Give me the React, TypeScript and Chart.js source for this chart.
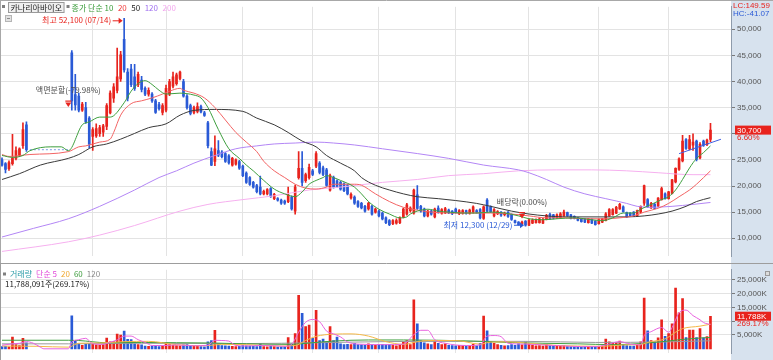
import React, { useEffect, useRef } from "react";
import { Chart, registerables } from "chart.js";

Chart.register(...registerables);

// ---------------- DATA ----------------
const stockName = "카나리아바이오";
const hiDate = "07/14";
const loDate = "12/29";

const opens = [
  25000,24300,23300,24300,25300,25900,27700,31700,
  null,null,null,null,null,null,null,null,null,null,null,null,
  45500,37500,37200,34500,35000,33000,29500,29600,30000,30300,
  31400,34000,36800,38300,40500,48100,41800,42400,40900,39400,
  40300,38700,37600,37600,36300,35600,34100,34500,37600,39100,
  39600,40600,40000,37200,35400,34100,34300,35200,34000,32100,
  26600,24700,26800,26500,26200,25800,24000,24200,24700,23800,
  22500,21600,20700,20100,19800,18500,18500,19500,17600,17600,
  17300,17100,17000,17900,15200,21600,23400,21000,21600,22900,
  23800,24400,23500,23100,19200,21600,21000,20700,20400,20100,
  17700,17900,17000,16700,16100,15600,16100,15000,15200,14800,
  13900,13400,12800,12900,13000,14100,14600,15300,14800,18300,
  16100,15600,14300,15200,14100,15800,14800,14900,15400,15200,
  15600,14700,14800,15300,14800,15000,15300,15500,13800,17300,
  16000,14300,14700,15000,14500,15000,14600,13400,13100,12700,
  13300,12500,12900,13000,13000,12900,13600,14600,14500,13900,
  14000,14300,14900,14500,14200,13900,13700,13700,13000,13600,
  13300,12800,13100,13400,14300,14500,14800,15600,16000,14900,
  14800,15000,14300,15000,16700,17400,15800,16500,16200,17400,
  18500,17600,18600,20800,23200,24800,28900,27100,27800,28600,
  25400,28600,27900,28900,
];
const highs = [
  25400,24500,24800,29900,27500,27300,32100,32300,
  null,null,null,null,null,null,null,null,null,null,null,null,
  45900,41400,37800,36000,36000,33300,31200,31900,31600,31800,
  35800,38200,39600,46400,45800,52100,42500,43300,43300,41800,
  41000,39000,38800,37900,36600,36000,35800,39300,40400,41800,
  41600,42000,40400,37500,35700,35300,35900,35500,34300,32400,
  27300,29600,28700,26800,26400,26000,25500,25200,24900,24000,
  22700,21800,20900,20300,21900,19200,19500,19700,18600,17800,
  17500,17300,19800,18100,20200,26600,26600,22500,24200,23200,
  26600,24700,23800,23400,22300,21900,21200,20900,20600,20300,
  18700,18100,17200,16900,16300,16900,16300,15800,15400,15000,
  14100,13600,13600,13700,14100,15800,16700,16000,19400,20100,
  16300,15800,15400,15400,15800,16200,15700,15900,15600,15300,
  15800,15500,15500,15400,15600,16200,15500,15700,16200,17600,
  16200,15700,15300,15100,15000,15100,14700,13500,13200,13300,
  13400,13700,13700,13700,13900,13800,14600,14800,14600,14700,
  14900,15400,15000,14600,14300,14000,13800,13800,13800,13700,
  13400,13700,13800,14900,15700,15700,16100,16700,16200,15000,
  14900,15100,15400,16200,20200,17600,16900,16700,17800,19800,
  18700,19000,21300,23500,25400,29700,29100,29700,30000,28800,
  28300,28800,29000,32000,
];
const lows = [
  23800,22500,23000,24000,25000,25600,27200,26600,
  null,null,null,null,null,null,null,null,null,null,null,null,
  34500,34500,34200,34300,32000,27300,26800,29300,29500,29500,
  30800,33800,36000,37800,40000,41800,36300,39000,38300,39000,
  38000,37300,37200,36000,33900,34500,33600,34200,37300,38800,
  39300,40300,37000,34700,33600,33800,34000,34000,33300,27300,
  23900,23900,25600,25400,24500,24200,23800,24000,23200,21800,
  20500,20100,19600,18700,18300,18300,18300,17800,17400,17100,
  16500,16500,16800,15400,14600,21300,20000,20700,21300,22000,
  23500,22300,22000,19900,19000,19600,19700,19200,18900,18300,
  17500,16500,15900,15600,15000,15400,14400,14800,14100,13500,
  12800,12400,12600,12700,12800,13900,14400,15000,14600,15500,
  15000,14100,14100,14400,13900,14800,14600,14700,14700,14500,
  14800,14500,14600,14600,14600,14800,14800,13700,13600,15000,
  14900,14100,14500,14200,14300,14000,13400,12900,12500,12600,
  12300,12400,12800,12900,12900,12800,13500,13600,13700,13800,
  13900,14200,14200,13700,13700,13300,13100,13000,12900,12800,
  12500,12700,13000,13300,14200,14400,14700,15500,15000,14000,
  14200,14200,14200,14900,16300,15900,15700,15600,16000,17300,
  17500,17500,18500,20600,23000,24600,27000,26900,26800,24800,
  25200,27600,27700,28500,
];
const closes = [
  24000,23200,24500,25300,26800,27100,30800,26950,
  null,null,null,null,null,null,null,null,null,null,null,null,
  36300,35500,34500,35700,32300,28000,30800,31000,31200,31500,
  35400,37800,39000,40900,45100,42200,36800,39400,38700,41400,
  38500,37600,38300,36300,34100,34800,35400,38700,40000,40900,
  41300,41800,37200,35000,33900,35000,35200,34200,33500,27700,
  24000,27100,25900,25600,24700,24400,25300,25000,23400,22000,
  20700,20300,19800,18900,18500,19000,19300,18000,18400,17300,
  16700,16700,18300,15600,19800,23400,20700,22200,23600,22200,
  26200,22600,22200,20100,22000,19800,19900,19400,19100,18500,
  18400,16700,16100,15800,15200,16700,14600,15600,14300,13700,
  13000,12600,13400,13400,13900,15600,16400,15800,19200,15700,
  15200,14300,15200,14600,15600,15000,15500,15700,14900,14700,
  15000,15300,15300,14800,15400,16000,15000,13900,16000,15200,
  15100,15500,15100,14400,14800,14200,13600,13000,12600,13100,
  12500,13500,13500,13500,13700,13600,14400,13800,13900,14500,
  14700,15000,14300,13800,13800,13400,13200,13100,13700,12900,
  12600,13600,13700,14700,15500,15500,15900,16500,15100,14100,
  14300,14300,15300,16100,20100,16000,16700,15700,17700,19500,
  17600,18900,21200,23400,25200,28600,27200,28900,28400,25100,
  28000,27800,28800,30700,
];
// volume in thousands of shares (K)
const volumes = [
  800,900,700,4200,1500,1200,3800,2200,
  null,null,null,null,null,null,null,null,null,null,null,null,
  11900,2800,1800,1300,1600,2000,1700,1400,1300,1500,
  3900,2500,2600,5300,5000,6400,3400,3300,1800,1500,
  1400,1000,900,1000,1200,800,900,2100,1500,1300,
  1200,1100,1400,1500,1100,900,900,800,700,2500,
  3000,6700,1800,1200,1100,1000,900,800,900,1200,
  1100,1000,900,800,2000,800,700,900,800,600,
  700,700,4100,1800,5500,19300,12800,8000,8600,3800,
  13900,3000,3500,2500,8000,3000,4200,1800,1500,1600,
  1500,2000,1500,1400,1300,1800,1500,1300,1500,1600,
  1400,1500,1300,1100,1400,2500,3000,1500,17700,9000,
  3000,2200,1800,1500,2600,2000,1500,1800,1300,1200,
  1100,1300,1200,1000,1100,1600,1100,2000,11800,6500,
  2500,2000,1500,1300,1100,1200,1500,1300,1800,1400,
  2500,1800,1300,1100,1200,1000,1500,1200,900,900,
  1000,1300,900,800,700,700,600,700,800,700,
  800,900,900,3500,2500,2000,2200,2800,1500,1200,
  1000,1000,1300,2500,18300,6500,3000,2500,4000,10500,
  4500,5500,9000,22000,13000,18200,4100,6800,6800,4100,
  7300,4000,4379.4,11788.091,
];

// first trading day of each month (candle index)
const monthStartIdx = [26, 47, 69, 89, 108, 130, 151, 171, 191];
const priceTicks = [10000, 15000, 20000, 25000, 30000, 35000, 40000, 45000, 50000];
const volTicks = [5000, 10000, 15000, 20000, 25000];

// price moving averages (candle index, value)
const maPeriods = [10, 20, 50, 120, 200];
const ma10Idx = [0,3,6,8,14,17,19,23,25,28,31,35,37,39,41,43,45,47,51,55,57,59,62,65,68,70,72,75,78,81,84,86,88,90,92,93,95,97,99,101,103,105,108,111,114,116,117,119,122,125,128,132,136,140,144,148,151,155,159,164,169,172,175,178,181,183,186,189,191,193,195,197,199,201,203];
const ma10Val = [25850,25480,25850,26760,27500,27500,26760,31720,32270,33190,33190,35940,38150,39620,40170,39430,38330,37600,37780,37410,36860,35030,30800,27130,25290,24010,22910,21070,19420,18500,17950,18870,20340,21070,21620,21990,21620,21070,20520,19790,18500,17030,15560,14640,13910,14090,14640,15200,15560,15200,15010,14830,14830,15010,14830,14280,13730,13540,13730,13910,13540,13360,13910,14830,14830,15560,16480,17400,17950,19240,21250,23460,25290,26400,27680];
const ma20Idx = [0,2,8,19,22,24,28,31,32,34,37,40,43,46,48,51,52,55,58,61,64,67,70,73,75,78,81,84,87,90,93,95,98,101,103,107,111,115,119,123,128,134,140,146,151,156,161,167,173,177,181,184,188,191,194,197,199,203];
const ma20Val = [26030,25660,26030,26580,27500,27680,28410,28970,30250,33560,35760,36310,36860,37600,38150,38700,38330,37780,36860,35030,32640,30250,28410,26580,24740,22910,21620,20340,19600,19420,19790,20340,20340,20340,20150,18500,17030,15930,15380,15010,14830,14830,14830,14640,14280,13910,13910,13730,13730,13910,14280,15010,15750,16670,17950,19240,20340,22910];
const ma50Idx = [0,5,11,19,22,26,30,34,38,42,47,51,55,61,69,73,78,82,86,90,93,97,101,103,107,111,115,119,125,130,136,140,146,151,156,161,173,179,184,188,192,196,199,203];
const ma50Val = [21250,22360,24010,25290,26030,27500,28050,28970,30070,31170,31900,33560,34470,34660,34290,33000,31720,30250,28600,27500,25840,24380,22910,21620,20150,19240,18500,17950,17580,17220,16670,16110,15200,14640,14280,14090,14090,14090,14280,14640,15200,16110,17030,17770];
const ma120Idx = [0,9,19,28,38,45,50,55,61,67,73,78,84,90,95,101,109,119,128,138,148,151,156,161,167,173,179,182,186,192,198,203];
const ma120Val = [10240,11890,13730,16110,19240,21620,22910,24380,25840,27130,27680,28050,28230,28410,28230,27860,27130,26210,25290,24010,23090,22540,21250,19790,18500,17580,16670,16110,15930,16110,16480,16850];
const ma200Idx = [0,19,28,38,51,59,69,78,88,97,109,119,128,138,148,159,169,179,188,198,203];
const ma200Val = [7480,9320,10610,12440,15200,16480,17400,18130,19240,19790,20700,21250,21990,22360,22910,23090,23090,22910,22540,22170,22170];

// volume moving averages (K)
const volMaPeriods = [5, 20, 60, 120];
const vma5Idx = [0,3,5,7,9,11,12,19,20,22,24,26,29,31,33,35,37,39,41,43,47,50,55,59,61,63,65,67,70,74,78,81,83,85,87,89,91,93,95,97,99,102,110,115,118,120,122,124,127,133,137,139,141,143,145,150,155,160,166,170,173,177,180,183,184,186,189,191,193,194,196,198,200,201,203];
const vma5Val = [1300,1800,2000,2600,2000,600,0,0,2400,3300,3800,1800,1600,2400,3200,4600,4600,3300,2300,1200,1200,1400,1100,1300,3100,3000,2800,1200,1000,1200,1100,900,1600,6000,9600,10600,9800,6400,5400,4300,2500,1700,1500,1700,5100,6700,6700,3300,2000,1200,1400,4600,4800,4400,2000,1700,1400,1100,800,800,1400,2600,1700,1400,4800,6200,7700,6000,10500,13000,14000,12000,10500,9500,8800];
const vma20Idx = [0,10,19,22,28,35,42,50,58,63,70,80,84,87,90,95,100,105,110,115,118,122,130,137,140,145,150,158,165,172,178,183,186,190,193,195,200,203];
const vma20Val = [1000,900,600,2000,2100,2600,2700,1500,1100,1600,1500,1000,1200,3000,4500,5300,5400,4600,2600,1600,2300,3000,3000,1700,2400,2500,2100,1300,1000,900,1400,1600,2600,3600,6000,7300,8200,8900];
const vma60Idx = [0,19,22,30,40,50,60,70,83,88,95,105,115,125,135,145,155,165,175,185,190,195,200,203];
const vma60Val = [3100,3100,3000,2200,2300,2200,2100,1800,1600,2100,2800,3200,3200,3100,2800,2300,2000,1800,1500,2100,2700,3400,3900,4100];
const vma120Idx = [0,19,40,70,90,110,130,150,170,190,203];
const vma120Val = [1800,1800,2000,1900,2200,2600,2700,2700,2300,2500,2900];

// events (split, ex-dividend) and user trend line
const eventIdx = [19, 149];
const eventLevel = [35600, 14260];
const eventText = ["액면분할(-79.98%)", "배당락(0.00%)"];
const trendIdx = [194, 206];
const trendVal = [26200, 28950];

// ---------------- STYLE ----------------
const RED = "#e8231d";
const BLUE = "#2a5ad6";
const GRID = "#e3e3e3";
const AXIS_BG = "#d7e2ee";
const KFONT = '"Noto Sans CJK KR", "Noto Sans", sans-serif';
const NFONT = '"Liberation Sans", Arial, sans-serif';
const MA_COLORS = ["#3f9f3f", "#f26464", "#3a3a3a", "#b386f5", "#f6b0ef"];
const MA_LEGEND_COLORS = ["#3a9c3a", "#f03a3a", "#222222", "#a070f0", "#f3a6ee"];
const VMA_COLORS = ["#e863df", "#f4b847", "#40a040", "#9a9a9a"];
const VMA_LEGEND_COLORS = ["#e045d8", "#f0a830", "#3a9a3a", "#888888"];

const X_MIN = -0.2865;
const X_MAX = 208.88;
const P_MIN = 6567;
const P_MAX = 54303;
const V_MIN = -1587;
const V_MAX = 28571;
const AXIS_W = 42;

const fmt = (v: number) => Math.round(v).toLocaleString("en-US");

const idx = opens.map((_, i) => i);
const traded = idx.filter((i) => closes[i] !== null);
const halted = idx.filter((i) => closes[i] === null);
const isUp = (i: number) => (closes[i] as number) >= (opens[i] as number);
const candleColors = traded.map((i) => (isUp(i) ? RED : BLUE));

function lineDs(ix: number[], vals: number[], color: string, order = 1, extra: any = {}) {
  return {
    type: "line",
    data: ix.map((x, k) => ({ x, y: vals[k] })),
    borderColor: color,
    borderWidth: 1,
    pointRadius: 0,
    cubicInterpolationMode: "monotone",
    fill: false,
    order,
    ...extra,
  };
}

function xScale() {
  return {
    type: "linear",
    min: X_MIN,
    max: X_MAX,
    offset: false,
    afterBuildTicks: (s: any) => {
      s.ticks = monthStartIdx.map((v) => ({ value: v }));
    },
    afterFit: (s: any) => {
      s.height = 0;
    },
    ticks: { display: false },
    grid: { color: GRID, drawTicks: false, offset: false },
    border: { display: false },
  };
}

const axisBg = {
  id: "axisBg",
  beforeDraw(chart: any) {
    const { ctx, chartArea, width, height } = chart;
    ctx.save();
    ctx.fillStyle = AXIS_BG;
    ctx.fillRect(chartArea.right, 0, width - chartArea.right, height);
    ctx.restore();
  },
};

function drawLegendRow(ctx: any, items: { t: string; c: string }[], x: number, y: number, gap: number) {
  for (const it of items) {
    ctx.fillStyle = it.c;
    ctx.fillText(it.t, x, y);
    x += ctx.measureText(it.t).width + gap;
  }
  return x;
}

const priceOverlay = {
  id: "priceOverlay",
  afterDraw(chart: any) {
    const { ctx, chartArea: ca, scales } = chart;
    const xs = scales.x;
    const ys = scales.y;
    ctx.save();
    ctx.lineWidth = 1;
    ctx.strokeStyle = "#a8a8a8";
    ctx.beginPath();
    ctx.moveTo(0, 0.5);
    ctx.lineTo(chart.width, 0.5);
    ctx.moveTo(0.5, 0);
    ctx.lineTo(0.5, chart.height);
    ctx.stroke();

    // legend
    ctx.textBaseline = "middle";
    ctx.textAlign = "left";
    ctx.font = `8px ${KFONT}`;
    ctx.fillStyle = "#7f7f7f";
    ctx.fillRect(2, 5, 3, 3);
    const nw = ctx.measureText(stockName).width;
    ctx.fillStyle = "#efefef";
    ctx.fillRect(8, 2, nw + 5, 11);
    ctx.strokeStyle = "#9a9a9a";
    ctx.strokeRect(8.5, 2.5, nw + 4, 10);
    ctx.fillStyle = "#222";
    ctx.fillText(stockName, 10.5, 8);
    let lx = 8 + nw + 7;
    ctx.fillStyle = "#7f7f7f";
    ctx.fillRect(lx, 5, 3, 3);
    lx += 5;
    drawLegendRow(
      ctx,
      maPeriods.map((p, k) => ({ t: k === 0 ? `종가 단순 ${p}` : `${p}`, c: MA_LEGEND_COLORS[k] })),
      lx,
      8,
      4.5
    );
    // small button
    ctx.fillStyle = "#b5b5b5";
    ctx.fillRect(5, 15, 7, 7);
    ctx.fillStyle = "#e2e2e2";
    ctx.fillRect(6, 16, 5, 5);
    ctx.fillStyle = "#8a8a8a";
    ctx.fillRect(7, 18, 3, 1);

    // highest
    let hiI = traded[0];
    let loI = traded[0];
    for (const i of traded) {
      if ((highs[i] as number) > (highs[hiI] as number)) hiI = i;
      if ((lows[i] as number) < (lows[loI] as number)) loI = i;
    }
    const hi = highs[hiI] as number;
    const lo = lows[loI] as number;
    const arrow = (tipX: number, yy: number, color: string) => {
      ctx.strokeStyle = color;
      ctx.fillStyle = color;
      ctx.beginPath();
      ctx.moveTo(tipX - 10, yy + 0.5);
      ctx.lineTo(tipX - 3, yy + 0.5);
      ctx.stroke();
      ctx.beginPath();
      ctx.moveTo(tipX, yy + 0.5);
      ctx.lineTo(tipX - 4, yy - 2.5);
      ctx.lineTo(tipX - 4, yy + 3.5);
      ctx.closePath();
      ctx.fill();
    };
    ctx.font = `8px ${KFONT}`;
    const hx = xs.getPixelForValue(hiI);
    const hy = ys.getPixelForValue(hi) + 2;
    arrow(hx - 1.5, hy, RED);
    ctx.textAlign = "right";
    ctx.fillStyle = RED;
    ctx.fillText(`최고 ${fmt(hi)} (${hiDate})`, hx - 13, hy);

    const lxp = xs.getPixelForValue(loI);
    const lyp = ys.getPixelForValue(lo) - 1.5;
    arrow(lxp - 1.5, lyp, BLUE);
    ctx.fillStyle = BLUE;
    ctx.fillText(`최저 ${fmt(lo)} (${loDate})`, lxp - 13, lyp);

    // event markers
    eventIdx.forEach((ei, k) => {
      const px = xs.getPixelForValue(ei);
      const py = ys.getPixelForValue(eventLevel[k]);
      ctx.fillStyle = RED;
      ctx.fillRect(px - 3, py - 4, 6, 1.2);
      ctx.beginPath();
      ctx.moveTo(px - 3, py - 2);
      ctx.lineTo(px + 3, py - 2);
      ctx.lineTo(px, py + 2.5);
      ctx.closePath();
      ctx.fill();
      ctx.fillStyle = "#4a4a4a";
      ctx.textAlign = "center";
      ctx.fillText(eventText[k], px, py - 14.5);
    });

    // right axis annotations
    const last = closes[closes.length - 1] as number;
    const prev = closes[closes.length - 2] as number;
    const ax = ca.right;
    ctx.textAlign = "left";
    ctx.font = `8px ${NFONT}`;
    ctx.fillStyle = RED;
    ctx.fillText(`LC:${((last / lo - 1) * 100).toFixed(2)}`, ax + 2, 5.5);
    ctx.fillStyle = BLUE;
    ctx.fillText(`HC:${((last / hi - 1) * 100).toFixed(2)}`, ax + 2, 13.5);
    const cy = ys.getPixelForValue(last);
    ctx.fillStyle = AXIS_BG;
    ctx.fillRect(ax + 4, cy + 4, 36, 8);
    ctx.fillStyle = RED;
    ctx.fillRect(ax + 4, cy - 4.5, 36, 9);
    ctx.fillStyle = "#ffffff";
    ctx.fillText(fmt(last), ax + 6, cy + 0.5);
    ctx.fillStyle = RED;
    ctx.fillText(`${((last / prev - 1) * 100).toFixed(2)}%`, ax + 6, cy + 8);
    ctx.restore();
  },
};

const volOverlay = {
  id: "volOverlay",
  afterDraw(chart: any) {
    const { ctx, chartArea: ca, scales } = chart;
    const ys = scales.y;
    ctx.save();
    ctx.lineWidth = 1;
    ctx.strokeStyle = "#9d9d9d";
    ctx.beginPath();
    ctx.moveTo(0, 0.5);
    ctx.lineTo(chart.width, 0.5);
    ctx.moveTo(0.5, 0);
    ctx.lineTo(0.5, chart.height);
    ctx.stroke();

    ctx.textBaseline = "middle";
    ctx.textAlign = "left";
    ctx.font = `8px ${KFONT}`;
    ctx.fillStyle = "#7f7f7f";
    ctx.fillRect(3, 9.5, 3, 3);
    drawLegendRow(
      ctx,
      [{ t: "거래량", c: "#2b9ca8" }].concat(
        volMaPeriods.map((p, k) => ({ t: k === 0 ? `단순 ${p}` : `${p}`, c: VMA_LEGEND_COLORS[k] }))
      ),
      10,
      11,
      4
    );
    const lastV = volumes[volumes.length - 1] as number;
    const prevV = volumes[volumes.length - 2] as number;
    const pct = ((lastV / prevV) * 100).toFixed(2);
    ctx.fillStyle = "#222";
    ctx.fillText(`${fmt(lastV * 1000)}주(${pct}%)`, 5, 20.5);

    const ax = ca.right;
    ctx.fillStyle = "#9a9a9a";
    ctx.fillRect(ax + 34, 8, 5, 5);
    ctx.fillStyle = "#dcdcdc";
    ctx.fillRect(ax + 35, 9, 3, 3);

    const vy = ys.getPixelForValue(lastV);
    ctx.font = `8px ${NFONT}`;
    ctx.fillStyle = AXIS_BG;
    ctx.fillRect(ax + 4, vy + 4, 36, 8);
    ctx.fillStyle = RED;
    ctx.fillRect(ax + 4, vy - 4.5, 36, 9);
    ctx.fillStyle = "#ffffff";
    ctx.fillText(`${fmt(lastV)}K`, ax + 6, vy + 0.5);
    ctx.fillStyle = RED;
    ctx.fillText(`${pct}%`, ax + 6, vy + 8);
    ctx.restore();
  },
};

function priceConfig(): any {
  const haltLevel = closes[halted[0] - 1] as number;
  return {
    type: "bar",
    data: {
      datasets: [
        lineDs(trendIdx, trendVal, "#3f5fe3", 0, { cubicInterpolationMode: "default" }),
        lineDs(ma10Idx, ma10Val, MA_COLORS[0], 1),
        lineDs(ma20Idx, ma20Val, MA_COLORS[1], 1),
        lineDs(ma50Idx, ma50Val, MA_COLORS[2], 1),
        lineDs(ma120Idx, ma120Val, MA_COLORS[3], 1),
        lineDs(ma200Idx, ma200Val, MA_COLORS[4], 1),
        lineDs([halted[0], halted[halted.length - 1]], [haltLevel, haltLevel], "#7d9be2", 2, {
          borderDash: [2, 2],
          cubicInterpolationMode: "default",
        }),
        {
          type: "bar",
          data: traded.map((i) => ({ x: i, y: [lows[i], highs[i]] })),
          backgroundColor: candleColors,
          barThickness: 1,
          minBarLength: 1,
          grouped: false,
          borderWidth: 0,
          order: 4,
        },
        {
          type: "bar",
          data: traded.map((i) => ({ x: i, y: [opens[i], closes[i]] })),
          backgroundColor: candleColors,
          barThickness: 2,
          minBarLength: 1,
          grouped: false,
          borderWidth: 0,
          order: 3,
        },
      ],
    },
    options: {
      animation: false,
      responsive: false,
      devicePixelRatio: 1,
      events: [],
      layout: { padding: { left: 1, top: 2, right: 0, bottom: 1 } },
      plugins: { legend: { display: false }, tooltip: { enabled: false } },
      scales: {
        x: xScale(),
        y: {
          type: "linear",
          position: "right",
          min: P_MIN,
          max: P_MAX,
          afterBuildTicks: (s: any) => {
            s.ticks = priceTicks.map((v) => ({ value: v }));
          },
          afterFit: (s: any) => {
            s.width = AXIS_W;
          },
          ticks: {
            font: { family: NFONT, size: 8 },
            color: "#555",
            padding: 2,
            callback: (v: any) => fmt(Number(v)),
          },
          grid: { color: GRID, tickLength: 4, tickColor: "#7a7a7a" },
          border: { display: true, color: "#8e9bab" },
        },
      },
    },
    plugins: [axisBg, priceOverlay],
  };
}

function volConfig(): any {
  const volColors = traded.map((i) => (isUp(i) ? RED : BLUE));
  return {
    type: "bar",
    data: {
      datasets: [
        lineDs(vma5Idx, vma5Val, VMA_COLORS[0], 1),
        lineDs(vma20Idx, vma20Val, VMA_COLORS[1], 1),
        lineDs(vma60Idx, vma60Val, VMA_COLORS[2], 1),
        lineDs(vma120Idx, vma120Val, VMA_COLORS[3], 1),
        {
          type: "bar",
          data: traded.map((i) => ({ x: i, y: volumes[i] })),
          backgroundColor: volColors,
          barThickness: 2,
          minBarLength: 1,
          grouped: false,
          borderWidth: 0,
          order: 3,
        },
      ],
    },
    options: {
      animation: false,
      responsive: false,
      devicePixelRatio: 1,
      events: [],
      layout: { padding: { left: 1, top: 2, right: 0, bottom: 0 } },
      plugins: { legend: { display: false }, tooltip: { enabled: false } },
      scales: {
        x: xScale(),
        y: {
          type: "linear",
          position: "right",
          min: V_MIN,
          max: V_MAX,
          afterBuildTicks: (s: any) => {
            s.ticks = volTicks.map((v) => ({ value: v }));
          },
          afterFit: (s: any) => {
            s.width = AXIS_W;
          },
          ticks: {
            font: { family: NFONT, size: 8 },
            color: "#555",
            padding: 2,
            callback: (v: any) => `${fmt(Number(v))}K`,
          },
          grid: { color: GRID, tickLength: 4, tickColor: "#7a7a7a" },
          border: { display: true, color: "#8e9bab" },
        },
      },
    },
    plugins: [axisBg, volOverlay],
  };
}

export default function App() {
  const priceRef = useRef<HTMLCanvasElement>(null);
  const volRef = useRef<HTMLCanvasElement>(null);
  useEffect(() => {
    const pc = new Chart(priceRef.current as HTMLCanvasElement, priceConfig());
    const vc = new Chart(volRef.current as HTMLCanvasElement, volConfig());
    return () => {
      pc.destroy();
      vc.destroy();
    };
  }, []);
  return (
    <div style={{ position: "fixed", left: 0, top: 0, width: 773, height: 360, background: "#fff", overflow: "hidden" }}>
      <canvas
        ref={priceRef}
        width={773}
        height={263}
        style={{ position: "absolute", left: 0, top: 0, width: 773, height: 263, display: "block" }}
      />
      <canvas
        ref={volRef}
        width={773}
        height={97}
        style={{ position: "absolute", left: 0, top: 263, width: 773, height: 97, display: "block" }}
      />
    </div>
  );
}
